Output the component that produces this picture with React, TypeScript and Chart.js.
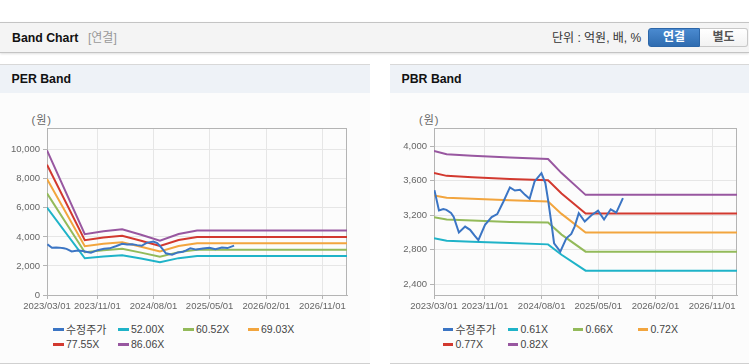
import React, { useEffect, useRef } from 'react';
import { Chart, registerables } from 'chart.js';
Chart.register(...registerables);

// ---------- data ----------
const axisStart = '2023/03/01';
const axisEnd = '2027/03/01';
const tickDates = ['2023/03/01', '2023/11/01', '2024/08/01', '2025/05/01', '2026/02/01', '2026/11/01'];

const priceDates = [
  '2023/03/03', '2023/03/25', '2023/04/15', '2023/04/30', '2023/05/22', '2023/06/04', '2023/06/29',
  '2023/07/29', '2023/08/22', '2023/09/12', '2023/10/01', '2023/11/02', '2023/12/04', '2023/12/31',
  '2024/01/30', '2024/03/01', '2024/03/25', '2024/04/19', '2024/05/13', '2024/06/04', '2024/06/28',
  '2024/07/31', '2024/08/19', '2024/09/01', '2024/09/17', '2024/09/30', '2024/10/30', '2024/11/28',
  '2024/12/22', '2025/01/07', '2025/01/27', '2025/02/25', '2025/03/29', '2025/04/30', '2025/05/29',
  '2025/06/30', '2025/07/27', '2025/08/28',
];
const priceValues = [
  3490, 3255, 3270, 3262, 3225, 3180, 3000,
  3068, 3030, 2965, 2912, 3088, 3177, 3212,
  3358, 3522, 3485, 3493, 3435, 3390, 3590,
  3687, 3571, 3377, 3107, 2875, 2778, 2933,
  2983, 3068, 3223, 3126, 3200, 3253, 3150,
  3268, 3230, 3397,
];

const perBandDates = ['2023/03/01', '2023/09/01', '2023/12/01', '2024/03/01', '2024/06/01', '2024/09/01', '2024/12/01', '2025/03/01', '2027/03/01'];
const per52 = [6018, 2529, 2652, 2738, 2507, 2263, 2538, 2679, 2679];
const per6052 = [7004, 2944, 3087, 3186, 2918, 2633, 2953, 3118, 3118];
const per6903 = [7989, 3358, 3521, 3634, 3329, 3004, 3369, 3557, 3557];
const per7755 = [8975, 3772, 3956, 4083, 3740, 3375, 3785, 3996, 3996];
const per8606 = [9960, 4186, 4390, 4531, 4150, 3745, 4200, 4434, 4434];
const perLabels = ['수정주가', '52.00X', '60.52X', '69.03X', '77.55X', '86.06X'];
const perYTicks = [0, 2000, 4000, 6000, 8000, 10000];

const pbrBandDates = ['2023/03/01', '2023/05/01', '2023/09/01', '2024/03/01', '2024/09/01', '2024/11/05', '2025/03/01', '2027/03/01'];
const pbr061 = [2933, 2905, 2893, 2878, 2862, 2742, 2558, 2558];
const pbr066 = [3177, 3150, 3137, 3121, 3114, 2975, 2778, 2778];
const pbr072 = [3427, 3403, 3390, 3373, 3358, 3215, 3000, 3000];
const pbr077 = [3687, 3655, 3639, 3620, 3603, 3452, 3218, 3218];
const pbr082 = [3942, 3905, 3888, 3868, 3849, 3687, 3435, 3435];
const pbrLabels = ['수정주가', '0.61X', '0.66X', '0.72X', '0.77X', '0.82X'];
const pbrYTicks = [2400, 2800, 3200, 3600, 4000];

const seriesColors = ['#3b75c4', '#1fb3c8', '#93ba5a', '#f2a53e', '#d2392f', '#9857a0'];

// ---------- helpers ----------
const dayOf = (s: string) => {
  const [y, m, d] = s.split('/').map(Number);
  const [y0, m0, d0] = axisStart.split('/').map(Number);
  return (Date.UTC(y, m - 1, d) - Date.UTC(y0, m0 - 1, d0)) / 86400000;
};
const toPoints = (dates: string[], vals: number[]) => dates.map((d, i) => ({ x: dayOf(d), y: vals[i] }));

const framePlugin = {
  id: 'frame',
  beforeDatasetsDraw(chart: any) {
    const { ctx, chartArea: a } = chart;
    ctx.save();
    ctx.strokeStyle = '#b4b4b4';
    ctx.lineWidth = 1;
    ctx.strokeRect(Math.round(a.left) + 0.5, Math.round(a.top) + 0.5, Math.round(a.right - a.left) - 1, Math.round(a.bottom - a.top));
    ctx.restore();
  },
};

type ChartProps = {
  left: number;
  width: number;
  labels: string[];
  bands: number[][];
  bandDates: string[];
  yMin: number;
  yMax: number;
  yTicks: number[];
  yAxisWidth: number;
  rightPad: number;
};

function BandCanvas(p: ChartProps) {
  const ref = useRef<HTMLCanvasElement>(null);
  useEffect(() => {
    if (!ref.current) return;
    const datasets = [
      { label: p.labels[0], data: toPoints(priceDates, priceValues) },
      ...p.bands.map((b, i) => ({ label: p.labels[i + 1], data: toPoints(p.bandDates, b) })),
    ].map((d, i) => ({
      ...d,
      borderColor: seriesColors[i],
      backgroundColor: seriesColors[i],
      borderWidth: 2,
      pointRadius: 0,
      tension: 0,
      fill: false,
    }));
    const chart = new Chart(ref.current, {
      type: 'line',
      data: { datasets },
      plugins: [framePlugin],
      options: {
        animation: false,
        responsive: false,
        devicePixelRatio: 1,
        layout: { padding: { top: 35, right: p.rightPad, left: 0, bottom: 0 } },
        plugins: { legend: { display: false }, tooltip: { enabled: false } },
        scales: {
          x: {
            type: 'linear',
            min: 0,
            max: dayOf(axisEnd),
            afterBuildTicks: (s: any) => {
              s.ticks = tickDates.map((t) => ({ value: dayOf(t) }));
            },
            afterFit: (s: any) => {
              s.height = 23;
            },
            ticks: {
              autoSkip: false,
              maxRotation: 0,
              color: '#666',
              padding: 2,
              font: { size: 9.5, family: 'Liberation Sans, Arial, sans-serif' },
              callback: (_v: any, i: number) => tickDates[i],
            },
            grid: { color: '#e6e6e6', tickColor: '#b4b4b4', tickLength: 4 },
            border: { display: true, color: '#b4b4b4' },
          },
          y: {
            type: 'linear',
            min: p.yMin,
            max: p.yMax,
            afterBuildTicks: (s: any) => {
              s.ticks = p.yTicks.map((v) => ({ value: v }));
            },
            afterFit: (s: any) => {
              s.width = p.yAxisWidth;
            },
            ticks: {
              color: '#666',
              padding: 3,
              font: { size: 9.5, family: 'Liberation Sans, Arial, sans-serif' },
              callback: (v: any) => Number(v).toLocaleString('en-US'),
            },
            grid: { color: '#e6e6e6', tickColor: '#b4b4b4', tickLength: 4 },
            border: { display: true, color: '#b4b4b4' },
          },
        },
      },
    } as any);
    return () => chart.destroy();
  }, []);
  return (
    <canvas
      ref={ref}
      width={p.width}
      height={225}
      style={{ position: 'absolute', left: p.left, top: 93, width: p.width, height: 225 }}
    />
  );
}

function Legend({ left, labels }: { left: number; labels: string[] }) {
  return (
    <div
      style={{
        position: 'absolute',
        left,
        top: 322,
        display: 'grid',
        gridTemplateColumns: 'repeat(4, 65px)',
        gridAutoRows: '14.7px',
        fontFamily: 'Liberation Sans, Arial, "Noto Sans CJK KR", sans-serif',
        fontSize: 10.5,
        color: '#444',
      }}
    >
      {labels.map((l, i) => (
        <div key={l} style={{ display: 'flex', alignItems: 'center', whiteSpace: 'nowrap' }}>
          <span style={{ display: 'inline-block', width: 10.5, height: 3, background: seriesColors[i], marginRight: 2.5 }} />
          <span style={{ fontSize: i === 0 ? 11 : 10.5 }}>{l}</span>
        </div>
      ))}
    </div>
  );
}

function Panel({ left, width, title }: { left: number; width: number; title: string }) {
  return (
    <>
      <div
        style={{
          position: 'absolute',
          left,
          top: 64,
          width,
          height: 29,
          background: '#eef2f7',
          borderTop: '1px solid #d8d8d8',
          boxSizing: 'border-box',
        }}
      >
        <div
          style={{
            position: 'absolute',
            left: 11.5,
            top: 0,
            lineHeight: '28px',
            fontWeight: 'bold',
            fontSize: 12.3,
            color: '#111',
          }}
        >
          {title}
        </div>
      </div>
      <div
        style={{
          position: 'absolute',
          left,
          top: 93,
          width,
          height: 270,
          background: '#fcfcfc',
          borderBottom: '1px solid #d0d0d0',
        }}
      />
    </>
  );
}

export default function App() {
  const font = 'Liberation Sans, Arial, "Noto Sans CJK KR", sans-serif';
  return (
    <div style={{ position: 'absolute', left: 0, top: 0, width: 749, height: 364, background: '#fff', fontFamily: font, overflow: 'hidden' }}>
      {/* top bar */}
      <div
        style={{
          position: 'absolute',
          left: 0,
          top: 22,
          width: 749,
          height: 31,
          background: '#f4f4f4',
          borderTop: '1px solid #c4c4c4',
          borderBottom: '1px solid #c4c4c4',
          boxShadow: '0 1px 2px rgba(0,0,0,0.12)',
          boxSizing: 'border-box',
        }}
      >
        <div style={{ position: 'absolute', left: 12, top: 0, lineHeight: '31px', fontSize: 12.3, fontWeight: 'bold', color: '#111' }}>
          Band Chart
        </div>
        <div style={{ position: 'absolute', left: 88, top: 0, lineHeight: '31px', fontSize: 12, color: '#999' }}>[연결]</div>
        <div style={{ position: 'absolute', left: 552, top: 0, lineHeight: '30px', fontSize: 12, color: '#333' }}>단위 : 억원, 배, %</div>
        <div
          style={{
            position: 'absolute',
            left: 648,
            top: 5,
            width: 52,
            height: 19,
            borderRadius: '3px 0 0 3px',
            background: 'linear-gradient(#4a8ad0, #2f6cb0)',
            border: '1px solid #2c66a8',
            boxSizing: 'border-box',
            color: '#fff',
            fontWeight: 'bold',
            fontSize: 12,
            textAlign: 'center',
            lineHeight: '17px',
          }}
        >
          연결
        </div>
        <div
          style={{
            position: 'absolute',
            left: 700,
            top: 5,
            width: 48,
            height: 19,
            borderRadius: '0 3px 3px 0',
            background: 'linear-gradient(#ffffff, #f2f2f2)',
            border: '1px solid #c8c8c8',
            borderLeft: 'none',
            boxSizing: 'border-box',
            color: '#555',
            fontWeight: 'bold',
            fontSize: 12,
            textAlign: 'center',
            lineHeight: '17px',
          }}
        >
          별도
        </div>
      </div>

      <Panel left={0} width={370} title="PER Band" />
      <Panel left={390} width={359} title="PBR Band" />

      <div style={{ position: 'absolute', left: 31.5, top: 111, fontSize: 11, color: '#666', letterSpacing: 1 }}>(원)</div>
      <div style={{ position: 'absolute', left: 419, top: 111, fontSize: 11, color: '#666', letterSpacing: 1 }}>(원)</div>

      <BandCanvas
        left={0}
        width={370}
        labels={perLabels}
        bands={[per52, per6052, per6903, per7755, per8606]}
        bandDates={perBandDates}
        yMin={0}
        yMax={11500}
        yTicks={perYTicks}
        yAxisWidth={47}
        rightPad={23}
      />
      <BandCanvas
        left={390}
        width={359}
        labels={pbrLabels}
        bands={[pbr061, pbr066, pbr072, pbr077, pbr082]}
        bandDates={pbrBandDates}
        yMin={2276}
        yMax={4209}
        yTicks={pbrYTicks}
        yAxisWidth={44}
        rightPad={12}
      />

      <Legend left={53} labels={perLabels} />
      <Legend left={442.5} labels={pbrLabels} />
    </div>
  );
}
